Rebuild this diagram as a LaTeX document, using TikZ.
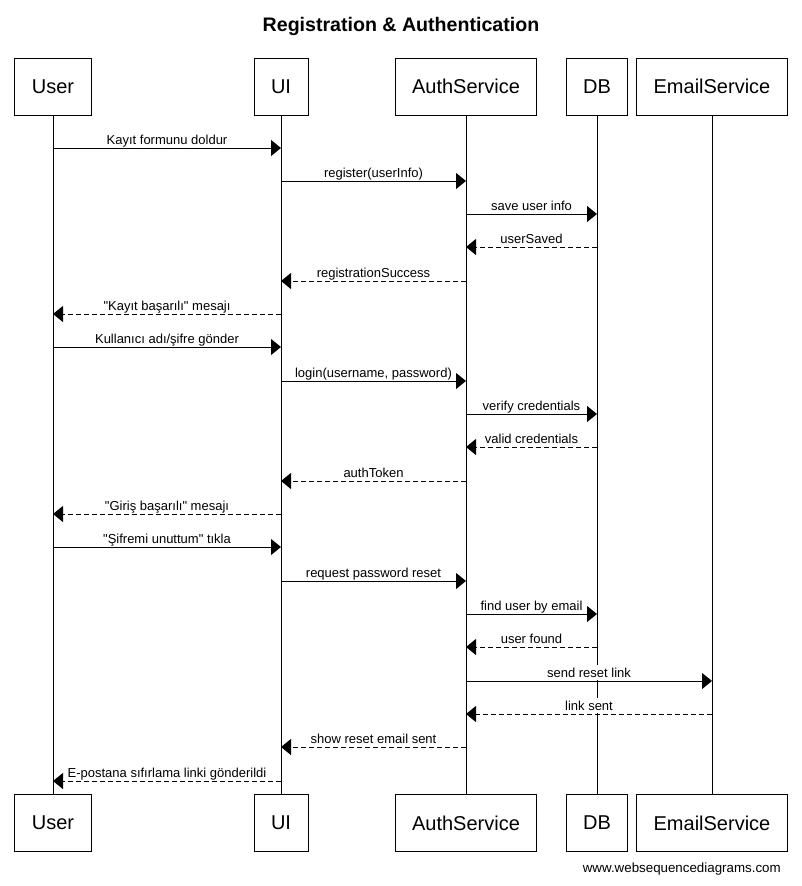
\documentclass[tikz,border=0pt]{standalone}
\usepackage{fontspec}
\setmainfont{Liberation Sans}[Ligatures=TeXOff]
\usetikzlibrary{arrows.meta}

\begin{document}
\begin{tikzpicture}[
    x=0.75pt, y=-0.75pt,
    actor/.style={draw, line width=0.75pt, minimum height=42.75pt, inner xsep=12.75pt, font=\fontsize{15}{18}\selectfont},
    lifeline/.style={line width=0.75pt},
    call/.style={-{Triangle[length=7.5pt, width=12pt]}, line width=0.75pt},
    reply/.style={call, dash pattern=on 3.75pt off 2.25pt},
    msglabel/.style={behind path, fill=white, inner xsep=1pt, inner ysep=2pt, anchor=base, yshift=3pt, font=\fontsize{9.75}{11}\selectfont}
]
    \useasboundingbox (0,0) rectangle (801,886);

    % Title
    \node[anchor=base, font=\bfseries\fontsize{14.7}{17}\selectfont] (title) at (401,31.7) {Registration \& Authentication};

    % Participants (top)
    \node[actor] (user)  at (53,86.5)  {User};
    \node[actor] (ui)    at (281,86.5) {UI};
    \node[actor] (auth)  at (466,86.5) {AuthService};
    \node[actor] (db)    at (597,86.5) {DB};
    \node[actor] (email) at (712,86.5) {EmailService};

    % Participants (bottom)
    \node[actor] (userB)  at (53,823)  {User};
    \node[actor] (uiB)    at (281,823) {UI};
    \node[actor] (authB)  at (466,823) {AuthService};
    \node[actor] (dbB)    at (597,823) {DB};
    \node[actor] (emailB) at (712,823) {EmailService};

    % Lifelines
    \draw[lifeline] (user.south)  -- (userB.north);
    \draw[lifeline] (ui.south)    -- (uiB.north);
    \draw[lifeline] (auth.south)  -- (authB.north);
    \draw[lifeline] (db.south)    -- (dbB.north);
    \draw[lifeline] (email.south) -- (emailB.north);

    % Registration
    \draw[call]  (user |- 0,148) -- node[msglabel]{Kayıt formunu doldur} (ui |- 0,148);
    \draw[call]  (ui |- 0,181)   -- node[msglabel]{register(userInfo)} (auth |- 0,181);
    \draw[call]  (auth |- 0,214) -- node[msglabel]{save user info} (db |- 0,214);
    \draw[reply] (db |- 0,247)   -- node[msglabel]{userSaved} (auth |- 0,247);
    \draw[reply] (auth |- 0,281) -- node[msglabel]{registrationSuccess} (ui |- 0,281);
    \draw[reply] (ui |- 0,314)   -- node[msglabel]{"Kayıt başarılı" mesajı} (user |- 0,314);

    % Login
    \draw[call]  (user |- 0,347) -- node[msglabel]{Kullanıcı adı/şifre gönder} (ui |- 0,347);
    \draw[call]  (ui |- 0,381)   -- node[msglabel]{login(username, password)} (auth |- 0,381);
    \draw[call]  (auth |- 0,414) -- node[msglabel]{verify credentials} (db |- 0,414);
    \draw[reply] (db |- 0,447)   -- node[msglabel]{valid credentials} (auth |- 0,447);
    \draw[reply] (auth |- 0,481) -- node[msglabel]{authToken} (ui |- 0,481);
    \draw[reply] (ui |- 0,514)   -- node[msglabel]{"Giriş başarılı" mesajı} (user |- 0,514);

    % Password reset
    \draw[call]  (user |- 0,547)  -- node[msglabel]{"Şifremi unuttum" tıkla} (ui |- 0,547);
    \draw[call]  (ui |- 0,581)    -- node[msglabel]{request password reset} (auth |- 0,581);
    \draw[call]  (auth |- 0,614)  -- node[msglabel]{find user by email} (db |- 0,614);
    \draw[reply] (db |- 0,647)    -- node[msglabel]{user found} (auth |- 0,647);
    \draw[call]  (auth |- 0,681)  -- node[msglabel]{send reset link} (email |- 0,681);
    \draw[reply] (email |- 0,714) -- node[msglabel]{link sent} (auth |- 0,714);
    \draw[reply] (auth |- 0,747)  -- node[msglabel]{show reset email sent} (ui |- 0,747);
    \draw[reply] (ui |- 0,781)    -- node[msglabel]{E-postana sıfırlama linki gönderildi} (user |- 0,781);

    % Footer
    \node[anchor=east, inner sep=0pt, font=\fontsize{10}{12}\selectfont] (footer) at (781,869) {www.websequencediagrams.com};
\end{tikzpicture}
\end{document}
